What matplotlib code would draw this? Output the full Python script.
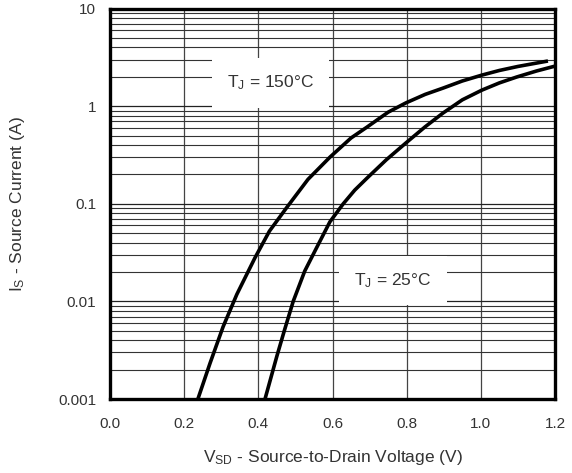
import matplotlib
matplotlib.use("Agg")
import matplotlib.pyplot as plt
import numpy as np
from matplotlib.ticker import NullFormatter, LogLocator

plt.rcParams['font.family'] = ['Liberation Sans', 'DejaVu Sans']
plt.rcParams['mathtext.fontset'] = 'custom'
plt.rcParams['mathtext.rm'] = 'Liberation Sans'
plt.rcParams['mathtext.it'] = 'Liberation Sans'

# curve data
v_150 = [0.237, 0.27, 0.305, 0.342, 0.391, 0.43, 0.477, 0.534, 0.593, 0.65, 0.693,
         0.75, 0.798, 0.85, 0.898, 0.95, 1.003, 1.05, 1.10, 1.181]
i_150 = [0.001, 0.00234, 0.0055, 0.0118, 0.028, 0.0525, 0.092, 0.178, 0.30, 0.472, 0.61,
         0.867, 1.08, 1.32, 1.53, 1.81, 2.08, 2.32, 2.55, 2.9]

v_25 = [0.418, 0.45, 0.47, 0.494, 0.525, 0.558, 0.593, 0.629, 0.66, 0.693, 0.745, 0.798,
        0.85, 0.898, 0.95, 1.003, 1.05, 1.097, 1.15, 1.2]
i_25 = [0.001, 0.00275, 0.005, 0.01, 0.0204, 0.036, 0.0653, 0.10, 0.138, 0.183, 0.282, 0.42,
        0.615, 0.85, 1.16, 1.46, 1.73, 1.99, 2.29, 2.57]

x_ticks = [0.0, 0.2, 0.4, 0.6, 0.8, 1.0, 1.2]
x_labels = ['0.0', '0.2', '0.4', '0.6', '0.8', '1.0', '1.2']
y_ticks = [0.001, 0.01, 0.1, 1, 10]
y_labels = ['0.001', '0.01', '0.1', '1', '10']

fig = plt.figure(figsize=(5.72, 4.73), dpi=100)
ax = fig.add_axes([0.1923, 0.1564, 0.778, 0.8256])

ax.set_yscale('log')
ax.set_xlim(0, 1.2)
ax.set_ylim(0.001, 10)

# grid
ax.yaxis.set_minor_locator(LogLocator(base=10, subs=np.arange(2, 10)))
ax.yaxis.set_minor_formatter(NullFormatter())
ax.set_yticks(y_ticks)
ax.set_yticklabels(y_labels)
ax.set_xticks(x_ticks)
ax.set_xticklabels(x_labels)
ax.grid(True, which='major', axis='y', color='#222222', lw=0.9)
ax.grid(True, which='minor', axis='y', color='#333333', lw=0.8)
ax.grid(True, which='major', axis='x', color='#444444', lw=0.9)
ax.tick_params(which='both', length=0, labelsize=11, labelcolor='#333333')
ax.tick_params(axis='y', pad=10)
ax.tick_params(axis='x', pad=13)

for s in ax.spines.values():
    s.set_linewidth(2.4)
    s.set_color('black')

ax.plot(v_150, i_150, color='black', lw=2.6, solid_capstyle='butt',
        solid_joinstyle='round', zorder=3)
ax.plot(v_25, i_25, color='black', lw=2.6, solid_capstyle='butt',
        solid_joinstyle='round', zorder=3)

box = dict(facecolor='white', edgecolor='none', pad=11)
ax.text(0.433, 1.73, r'T$_{\rm J}$ = 150°C', fontsize=12.5, color='#333333',
        ha='center', va='center', bbox=box, zorder=4)
ax.text(0.763, 0.0165, r'T$_{\rm J}$ = 25°C', fontsize=12.5, color='#333333',
        ha='center', va='center', bbox=box, zorder=4)

ax.set_xlabel(r'V$_{\rm SD}$ - Source-to-Drain Voltage (V)', fontsize=12.5, color='#333333', labelpad=12)
ax.set_ylabel(r'I$_{\rm S}$ - Source Current (A)', fontsize=12.5, color='#333333', labelpad=22)

fig.savefig('out.png', dpi=100)
